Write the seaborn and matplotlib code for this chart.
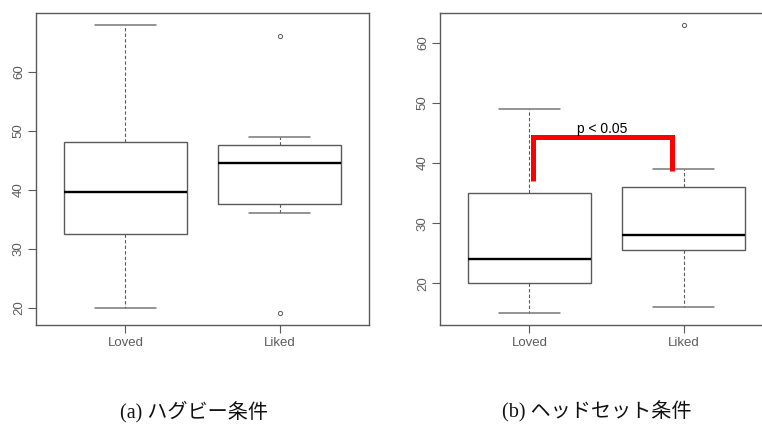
import numpy as np
import pandas as pd
import matplotlib
matplotlib.use("Agg")
import matplotlib.pyplot as plt
import seaborn as sns

# Groups and per-panel five-number summaries (whisker low, Q1, median, Q3, whisker high) + outliers
groups = ["Loved", "Liked"]

hug_low = [20, 36]
hug_q1 = [32.5, 37.6]
hug_median = [39.6, 44.5]
hug_q3 = [48.1, 47.5]
hug_high = [68, 49]
hug_outliers = [[], [19, 66]]

head_low = [15, 16]
head_q1 = [20, 25.5]
head_median = [24, 28]
head_q3 = [35, 36]
head_high = [49, 39]
head_outliers = [[], [63]]

yticks = [20, 30, 40, 50, 60]
captions = ["(a) ハグビー条件", "(b) ヘッドセット条件"]

# Significance bracket between the two headset groups
sig_label = "p < 0.05"
bracket_x = [0.026, 0.026, 0.925, 0.925]
bracket_y = [37.0, 44.4, 44.4, 38.7]


def observations(low, q1, med, q3, high, outliers):
    """Expand summaries into observations whose quartiles reproduce them."""
    rows = []
    for g, lo, a, m, b, hi, out in zip(groups, low, q1, med, q3, high, outliers):
        if len(out) == 2:
            vals = [lo, a, a, m, b, b, hi] + list(out)
        elif len(out) == 1:
            vals = [lo, a, a, m, m, b, b, hi] + list(out)
        else:
            vals = [lo, a, m, b, hi]
        rows += [(g, v) for v in vals]
    return pd.DataFrame(rows, columns=["group", "value"])


hug_df = observations(hug_low, hug_q1, hug_median, hug_q3, hug_high, hug_outliers)
head_df = observations(head_low, head_q1, head_median, head_q3, head_high, head_outliers)

sns.set_theme(style="white")
plt.rcParams["font.family"] = ["Liberation Sans", "DejaVu Sans"]

W, H = 762, 424
fig = plt.figure(figsize=(W / 100, H / 100), dpi=100)
ax_a = fig.add_axes([36 / W, 1 - 325 / H, 333 / W, 312 / H])
ax_b = fig.add_axes([440 / W, 1 - 325 / H, 333 / W, 312 / H])

edge = "#5a5a5a"
box_kws = dict(
    width=0.8,
    whis=1.5,
    boxprops=dict(facecolor="white", edgecolor=edge, linewidth=1.0),
    medianprops=dict(color="black", linewidth=1.7),
    whiskerprops=dict(color=edge, linewidth=0.8, linestyle=(0, (3, 2))),
    capprops=dict(color="#777777", linewidth=1.1),
    flierprops=dict(marker="o", markersize=3.0, markerfacecolor="none",
                    markeredgecolor=edge, markeredgewidth=0.7),
)

for ax, df in [(ax_a, hug_df), (ax_b, head_df)]:
    sns.boxplot(data=df, x="group", y="value", order=groups, ax=ax, **box_kws)
    vmin, vmax = df["value"].min(), df["value"].max()
    pad = (vmax - vmin) * 0.04
    ax.set_ylim(vmin - pad, vmax + pad)
    ax.set_xlim(-0.58, 1.58)
    ax.set_yticks(yticks)
    ax.set_yticklabels([str(t) for t in yticks], rotation=90, va="center")
    ax.set_xlabel("")
    ax.set_ylabel("")
    for s in ax.spines.values():
        s.set_color(edge)
        s.set_linewidth(1.0)
    ax.tick_params(axis="both", which="both", direction="out", length=6,
                   width=0.8, color=edge, labelcolor="#5c5c5c", labelsize=9.5,
                   left=True, bottom=True)
    ax.tick_params(axis="y", pad=2)
    ax.tick_params(axis="x", pad=3)

ax_b.spines["right"].set_visible(False)

ax_b.plot(bracket_x, bracket_y, color="red", linewidth=3.6,
          solid_joinstyle="miter", solid_capstyle="butt", clip_on=False)
ax_b.text(0.47, 44.55, sig_label, ha="center", va="bottom", fontsize=10,
          color="black")

for cx, cap in zip([194 / W, 597 / W], captions):
    fig.text(cx, 1 - 412 / H, cap, ha="center", va="center", fontsize=14.5,
             family=["Liberation Serif", "Noto Sans CJK JP"], color="#111111")

fig.savefig("out.png", dpi=100)
